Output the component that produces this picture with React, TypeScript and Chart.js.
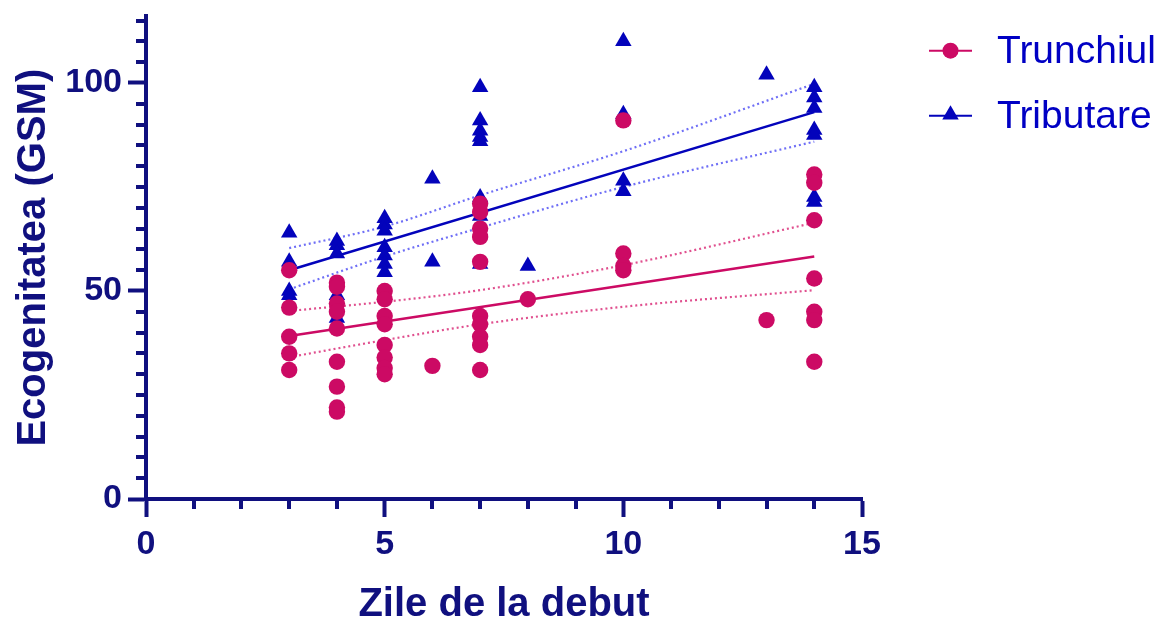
import React, { useEffect, useRef } from "react";
import { Chart, registerables } from "chart.js";
Chart.register(...registerables);

const NAVY = "#10107f";
const PINK = "#cc0a64";
const BLUE = "#0303bb";
const PINK_DOT = "#e0508f";
const BLUE_DOT = "#6f6ff6";
const LEGEND_TEXT = "#0000c4";
const FONT = "'Liberation Sans', Arial, Helvetica, sans-serif";

// Series names
const seriesNames = ["Trunchiul", "Tributare"];

// Trunchiul (circles)
const trunchiulDays = [
  3, 3, 3, 3, 3,
  4, 4, 4, 4, 4, 4, 4, 4, 4,
  5, 5, 5, 5, 5, 5, 5, 5,
  6,
  7, 7, 7, 7, 7, 7, 7, 7, 7, 7,
  8,
  10, 10, 10, 10,
  13,
  14, 14, 14, 14, 14, 14, 14,
];
const trunchiulGsm = [
  55, 46, 39, 35, 31,
  52, 51, 47, 45, 41, 33, 27, 22, 21,
  50, 48, 44, 42, 37, 34, 31.5, 30,
  32,
  71, 69, 65, 63, 57, 44, 42, 39, 37, 31,
  48,
  91, 59, 56, 55,
  43,
  78, 76, 67, 53, 45, 43, 33,
];

// Tributare (triangles)
const tributareDays = [
  3, 3, 3, 3,
  4, 4, 4, 4, 4,
  5, 5, 5, 5, 5, 5, 5,
  6, 6,
  7, 7, 7, 7, 7, 7, 7, 7,
  8,
  10, 10, 10, 10,
  13,
  14, 14, 14, 14, 14, 14, 14,
];
const tributareGsm = [
  64, 57, 50, 49,
  62, 61, 59, 49, 43.5,
  67.5, 66, 64.5, 60.5, 58.5, 56.5, 54.5,
  77, 57,
  99, 91, 88.5, 87, 86, 72.5, 68, 56.5,
  56,
  110, 92.5, 76.5, 74,
  102,
  99, 96.5, 94, 88.7, 87.5, 72.6, 71.4,
];

// Linear fits
const fitDays = [3, 14];
const trunchiulFit = [39.2, 58.3];
const tributareFit = [55, 93];

// 95% confidence bands
const bandDays = [3, 5, 7, 10, 14];
const trunchiulUpper = [45.2, 47.4, 50.2, 56.2, 66.4];
const trunchiulLower = [34.1, 38.2, 42.0, 46.2, 50.2];
const tributareUpper = [60.3, 65.5, 73.0, 83.6, 99.8];
const tributareLower = [50.4, 58.3, 65.2, 75.0, 85.9];

// Axis ticks
const xMajorTicks = [0, 5, 10, 15];
const xMinorStep = 1;
const yMajorTicks = [0, 50, 100];
const yMinorStep = 5;
const xMax = 15;
const yMax = 116;
const xTitle = "Zile de la debut";
const yTitle = "Ecogenitatea (GSM)";

const pts = (xs: number[], ys: number[]) => xs.map((x, i) => ({ x, y: ys[i] }));

const minorTicksPlugin = {
  id: "minorTicks",
  afterDraw(chart: any) {
    const { ctx, chartArea, scales } = chart;
    const xs = scales.x;
    const ys = scales.y;
    ctx.save();
    ctx.strokeStyle = NAVY;
    ctx.lineWidth = 4;
    ctx.lineCap = "butt";
    for (let v = yMinorStep; v <= yMax; v += yMinorStep) {
      if (yMajorTicks.includes(v)) continue;
      const p = Math.round(ys.getPixelForValue(v));
      ctx.beginPath();
      ctx.moveTo(chartArea.left - 10, p);
      ctx.lineTo(chartArea.left, p);
      ctx.stroke();
    }
    for (let v = xMinorStep; v < xMax; v += xMinorStep) {
      if (xMajorTicks.includes(v)) continue;
      const p = Math.round(xs.getPixelForValue(v));
      ctx.beginPath();
      ctx.moveTo(p, chartArea.bottom);
      ctx.lineTo(p, chartArea.bottom + 10);
      ctx.stroke();
    }
    ctx.restore();
  },
};

const legendPlugin = {
  id: "customLegend",
  afterDraw(chart: any) {
    const { ctx } = chart;
    const items = [
      { label: seriesNames[0], color: PINK, shape: "circle", y: 50.7, base: 63 },
      { label: seriesNames[1], color: BLUE, shape: "triangle", y: 115.7, base: 128 },
    ];
    ctx.save();
    for (const it of items) {
      ctx.strokeStyle = it.color;
      ctx.lineWidth = 2;
      ctx.beginPath();
      ctx.moveTo(929, it.y);
      ctx.lineTo(972, it.y);
      ctx.stroke();
      ctx.fillStyle = it.color;
      ctx.beginPath();
      if (it.shape === "circle") {
        ctx.arc(950.5, it.y, 8, 0, Math.PI * 2);
      } else {
        const r = 9.5;
        const cx = 950.5;
        const cy = it.y - 1;
        ctx.moveTo(cx, cy - r);
        ctx.lineTo(cx + r * 0.866, cy + r / 2);
        ctx.lineTo(cx - r * 0.866, cy + r / 2);
        ctx.closePath();
      }
      ctx.fill();
      ctx.fillStyle = LEGEND_TEXT;
      ctx.font = `39px ${FONT}`;
      ctx.textBaseline = "alphabetic";
      ctx.textAlign = "left";
      ctx.fillText(it.label, 997, it.base);
    }
    ctx.restore();
  },
};

export default function App() {
  const ref = useRef<HTMLCanvasElement>(null);
  useEffect(() => {
    const canvas = ref.current!;
    Chart.defaults.font.family = FONT;
    const lineDs = (label: string, xs: number[], ys: number[], color: string, dotted: boolean, order: number) => ({
      type: "line" as const,
      label,
      data: pts(xs, ys),
      showLine: true,
      borderColor: color,
      borderWidth: dotted ? 2.2 : 2.5,
      borderDash: dotted ? [2, 3] : [],
      pointRadius: 0,
      fill: false,
      cubicInterpolationMode: dotted ? ("monotone" as const) : ("default" as const),
      order,
    });
    const chart = new Chart(canvas, {
      type: "scatter",
      data: {
        datasets: [
          {
            label: seriesNames[0],
            data: pts(trunchiulDays, trunchiulGsm),
            pointStyle: "circle",
            pointRadius: 8.2,
            backgroundColor: PINK,
            borderWidth: 0,
            order: 0,
          },
          {
            label: seriesNames[1],
            data: pts(tributareDays, tributareGsm),
            pointStyle: "triangle",
            pointRadius: 9.5,
            backgroundColor: BLUE,
            borderWidth: 0,
            order: 1,
          },
          lineDs("Trunchiul fit", fitDays, trunchiulFit, PINK, false, 2),
          lineDs("Tributare fit", fitDays, tributareFit, BLUE, false, 3),
          lineDs("Trunchiul upper", bandDays, trunchiulUpper, PINK_DOT, true, 4),
          lineDs("Trunchiul lower", bandDays, trunchiulLower, PINK_DOT, true, 5),
          lineDs("Tributare upper", bandDays, tributareUpper, BLUE_DOT, true, 6),
          lineDs("Tributare lower", bandDays, tributareLower, BLUE_DOT, true, 7),
        ] as any,
      },
      options: {
        animation: false,
        responsive: false,
        devicePixelRatio: 1,
        layout: { padding: { top: 16.4, right: 300, left: 0, bottom: 0 } },
        plugins: { legend: { display: false }, tooltip: { enabled: false } },
        scales: {
          x: {
            type: "linear",
            min: 0,
            max: xMax,
            position: "bottom",
            afterFit: (s: any) => {
              s.height = 120;
              s.paddingLeft = 0;
              s.paddingRight = 0;
            },
            ticks: {
              stepSize: 5,
              color: NAVY,
              font: { size: 34, weight: "bold", family: FONT },
              padding: 7,
              maxRotation: 0,
            },
            grid: {
              display: true,
              drawOnChartArea: false,
              drawTicks: true,
              tickLength: 18,
              tickWidth: 4,
              tickColor: NAVY,
            },
            border: { display: true, color: NAVY, width: 4 },
            title: {
              display: true,
              text: xTitle,
              color: NAVY,
              font: { size: 40, weight: "bold", family: FONT, lineHeight: 0.7 },
              padding: 0,
            },
          },
          y: {
            type: "linear",
            min: 0,
            max: yMax,
            afterFit: (s: any) => {
              s.width = 146;
              s.paddingTop = 0;
              s.paddingBottom = 0;
            },
            ticks: {
              stepSize: 50,
              includeBounds: false,
              color: NAVY,
              font: { size: 34, weight: "bold", family: FONT },
              padding: 6,
            },
            grid: {
              display: true,
              drawOnChartArea: false,
              drawTicks: true,
              tickLength: 18,
              tickWidth: 4,
              tickColor: NAVY,
            },
            border: { display: true, color: NAVY, width: 4 },
            title: {
              display: true,
              text: yTitle,
              color: NAVY,
              font: { size: 40, weight: "bold", family: FONT, lineHeight: 1.2 },
              padding: { top: 10, bottom: 0 },
            },
          },
        },
      } as any,
      plugins: [minorTicksPlugin, legendPlugin],
    });
    return () => chart.destroy();
  }, []);
  return (
    <canvas
      ref={ref}
      width={1162}
      height={619}
      style={{ position: "fixed", left: 0, top: 0, width: 1162, height: 619 }}
    />
  );
}
